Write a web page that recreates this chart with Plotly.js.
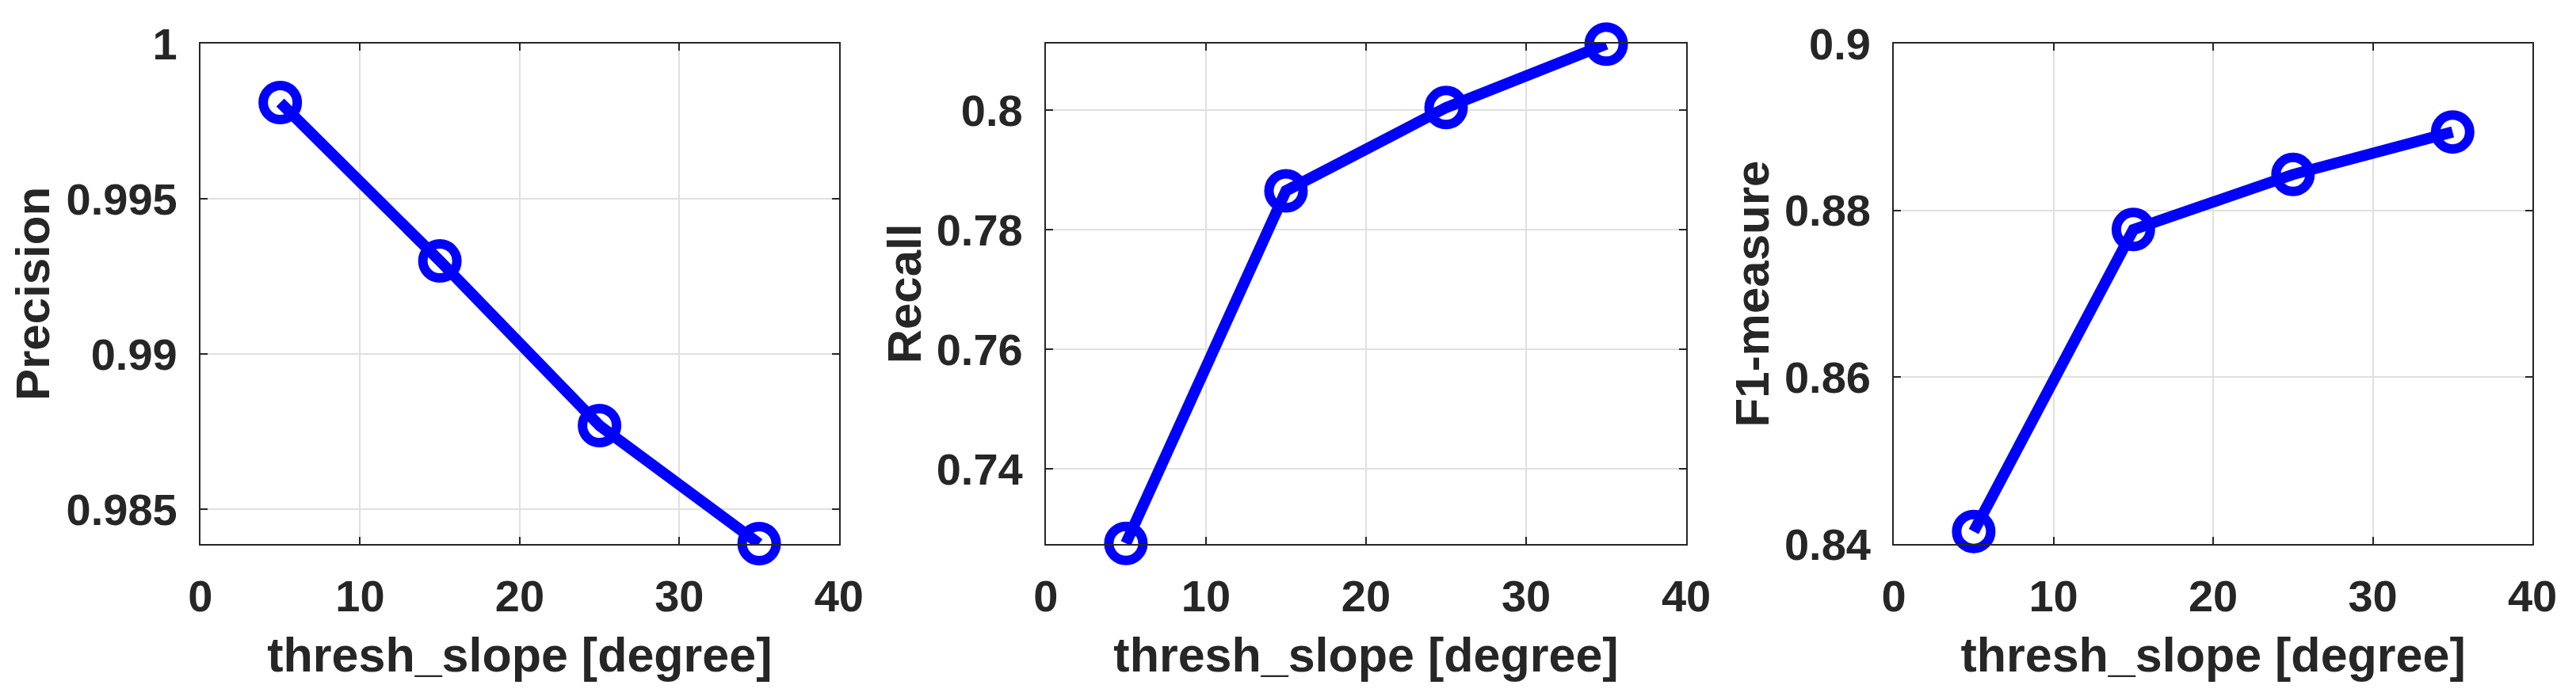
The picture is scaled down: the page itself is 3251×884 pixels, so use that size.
<!DOCTYPE html>
<html>
<head>
<meta charset="utf-8">
<script src="https://cdn.plot.ly/plotly-3.0.1.min.js"></script>
<style>html,body{margin:0;padding:0;background:#fff;}#chart{width:3251px;height:884px;}</style>
</head>
<body>
<div id="chart"></div>
<script>
// Data
const threshSlope = [5, 15, 25, 35];
const precision = [0.9981, 0.9930, 0.9877, 0.9839];
const recall = [0.7276, 0.7865, 0.8004, 0.8110];
const f1 = [0.8415, 0.8777, 0.8843, 0.8894];

const xTickVals = [0, 10, 20, 30, 40];
const xTickText = ['0', '10', '20', '30', '40'];
const precTickVals = [0.985, 0.99, 0.995, 1];
const precTickText = ['0.985', '0.99', '0.995', '1'];
const recTickVals = [0.74, 0.76, 0.78, 0.8];
const recTickText = ['0.74', '0.76', '0.78', '0.8'];
const f1TickVals = [0.84, 0.86, 0.88, 0.9];
const f1TickText = ['0.84', '0.86', '0.88', '0.9'];

const xTitle = 'thresh_slope [degree]';
const yTitles = ['Precision', 'Recall', 'F1-measure'];

const FONT = '"Liberation Sans", Arial, sans-serif';
const INK = '#262626';
const BLUE = '#0000ff';

function series(y, xa, ya) {
  return {
    x: threshSlope, y: y, xaxis: xa, yaxis: ya,
    type: 'scatter', mode: 'lines+markers',
    line: {color: BLUE, width: 14},
    marker: {symbol: 'circle-open', size: 43, color: BLUE, line: {color: BLUE, width: 12}},
    cliponaxis: false, showlegend: false
  };
}

function xAxis(domain, anchor) {
  return {
    domain: domain, anchor: anchor, range: [0, 40],
    tickvals: xTickVals, ticktext: xTickText,
    tickfont: {family: FONT, size: 56, color: INK, weight: 'bold'},
    ticks: 'inside', ticklen: 9, tickwidth: 2, tickcolor: INK,
    showline: true, linecolor: INK, linewidth: 2, mirror: 'ticks',
    showgrid: true, gridcolor: '#e0e0e0', gridwidth: 2,
    zeroline: false, ticklabelstandoff: 16,
    title: {text: xTitle, font: {family: FONT, size: 61, color: INK, weight: 'bold'}, standoff: 22},
    automargin: false
  };
}

function yAxis(domain, anchor, range, tv, tt, title, so) {
  return {
    domain: domain, anchor: anchor, range: range,
    tickvals: tv, ticktext: tt,
    tickfont: {family: FONT, size: 56, color: INK, weight: 'bold'},
    ticks: 'inside', ticklen: 9, tickwidth: 2, tickcolor: INK,
    showline: true, linecolor: INK, linewidth: 2, mirror: 'ticks',
    showgrid: true, gridcolor: '#e0e0e0', gridwidth: 2,
    zeroline: false, ticklabelstandoff: 16,
    title: {text: title, font: {family: FONT, size: 60, color: INK, weight: 'bold'}, standoff: so},
    automargin: false
  };
}

const yDom = [0.2229, 0.9378];

const data = [
  series(precision, 'x', 'y'),
  series(recall, 'x2', 'y2'),
  series(f1, 'x3', 'y3')
];

const layout = {
  width: 3251, height: 884,
  margin: {l: 0, r: 0, t: 0, b: 0},
  paper_bgcolor: '#ffffff', plot_bgcolor: '#ffffff',
  font: {family: FONT, color: INK},
  xaxis: xAxis([0.0778, 0.3257], 'y'),
  yaxis: yAxis(yDom, 'x', [0.98389, 1.0], precTickVals, precTickText, yTitles[0], 2),
  xaxis2: xAxis([0.4060, 0.6546], 'y2'),
  yaxis2: yAxis(yDom, 'x2', [0.7275, 0.8111], recTickVals, recTickText, yTitles[1], 0),
  xaxis3: xAxis([0.7352, 0.9831], 'y3'),
  yaxis3: yAxis(yDom, 'x3', [0.84, 0.90], f1TickVals, f1TickText, yTitles[2], 0)
};

Plotly.newPlot('chart', data, layout, {displayModeBar: false, staticPlot: true});
</script>
</body>
</html>
